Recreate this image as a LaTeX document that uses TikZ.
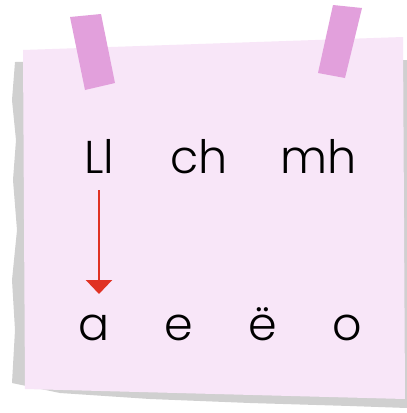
\documentclass[tikz,border=0pt]{standalone}
\usepackage{fontspec}
\setmainfont{Poppins}[UprightFont=* Light]
\usetikzlibrary{arrows.meta}
\definecolor{paper}{RGB}{248,230,248}
\definecolor{shadowgray}{RGB}{208,208,208}
\definecolor{tape}{RGB}{226,160,220}
\definecolor{arrowred}{RGB}{224,50,36}
\tikzset{
  letter/.style={anchor=base,inner sep=0pt,font=\fontsize{46}{50}\selectfont,text=black},
  arr/.style={draw=arrowred,line width=2.4pt,-{Triangle[width=26pt,length=14pt]}},
}
\begin{document}
\begin{tikzpicture}[x=1pt,y=-1pt]
\useasboundingbox (0,0) rectangle (407,413);
\fill[white] (0,0) rectangle (407,413);
% shadow
\fill[shadowgray] (15,62) -- (12,100) -- (16,140) -- (13,180) -- (17,230) -- (12,280) -- (15,330) -- (12,383) -- (60,393) -- (150,399) -- (250,403) -- (350,406) -- (407,408) -- (407,60) -- cycle;
% paper
\fill[paper] (23,50) -- (403,37) -- (405,399) -- (25,389) -- cycle;
% tapes
\fill[tape] (70,17) -- (101,14) -- (115,83) -- (85,90) -- cycle;
\fill[tape] (333,5) -- (362,8) -- (345,78) -- (318,73) -- cycle;
% letters
\node[letter] (Ll) at (99,173) {Ll};
\node[letter] (ch) at (199,173) {ch};
\node[letter] (mh) at (319,173) {mh};
\node[letter] (a) at (94,340) {a};
\node[letter] (e) at (179,340) {e};
\node[letter] (eu) at (263,340) {ë};
\node[letter] (o) at (347,340) {o};
\coordinate (arrS) at (99,190);
\coordinate (arrE) at (99,294);
\draw[arr] (arrS) -- (arrE);
\end{tikzpicture}
\end{document}
